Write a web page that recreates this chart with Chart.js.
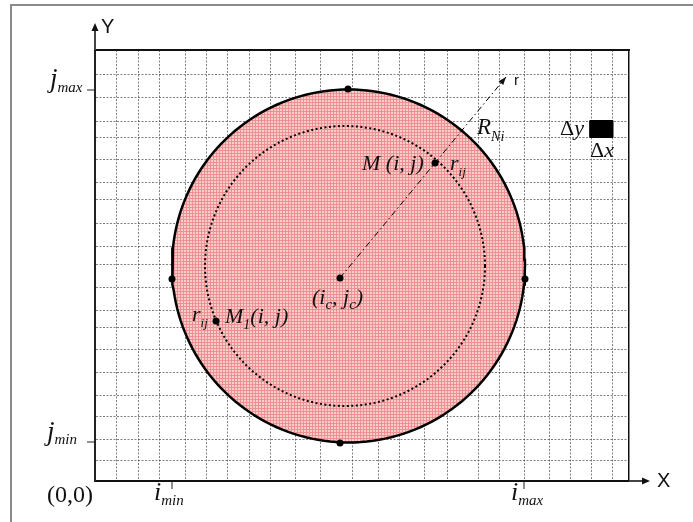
<!DOCTYPE html>
<html>
<head>
<meta charset="utf-8">
<script src="https://cdn.jsdelivr.net/npm/chart.js@4/dist/chart.umd.min.js"></script>
<style>
  html, body { margin: 0; padding: 0; background: #fff; }
  #wrap { position: relative; width: 693px; height: 522px; overflow: hidden; }
  #frame { position: absolute; left: 10px; top: 4px; width: 700px; height: 600px;
           border-top: 2px solid #8a8a8a; border-left: 2px solid #8a8a8a; }
  canvas { position: absolute; left: 0; top: 0; }
</style>
</head>
<body>
<div id="wrap">
  <div id="frame"></div>
  <canvas id="diagram" width="693" height="522"></canvas>
</div>
<script>
// grid cells (data units, origin at the (0,0) corner)
const xGrid = [21.5, 43.5, 64.5, 90, 111.5, 132.5, 154.5, 175.5, 200.5, 225, 257, 283.5,
               304.5, 329, 352.5, 383.5, 404.5, 429, 454.5, 475.5, 496.5, 517.5];
const yGrid = [20.5, 42, 64.5, 86, 108.5, 131.5, 153.5, 170.5, 193.5, 216.5, 234.5, 258,
               281, 298.5, 321.5, 343.5, 360, 383.5, 407];

// limits of the region
const iLimits = [77, 429];   // i_min, i_max
const jLimits = [39, 391];   // j_min, j_max

// boundary circle R_Ni and circle through M(i,j)
const outerCircle = { cx: 253.5, cy: 215, r: 176.5 };
const innerCircle = { cx: 250, cy: 215, r: 140 };

// marked points
const boundaryPoints = [ {x: 253, y: 392}, {x: 245, y: 38}, {x: 77, y: 202}, {x: 430, y: 202} ];
const centerPoint = {x: 245, y: 203};
const mPoint = {x: 340, y: 318};
const m1Point = {x: 121, y: 160};
const rayEnd = {x: 411, y: 404};

// one cell dx * dy
const cellBox = [{x: 495, y: 343.5}, {x: 518, y: 343.5}, {x: 518, y: 360.5}, {x: 495, y: 360.5}, {x: 495, y: 343.5}];

function circlePoints(c, n) {
    const pts = [];
    for (let k = 0; k <= n; k++) {
        const a = 2 * Math.PI * k / n;
        pts.push({ x: c.cx + c.r * Math.cos(a), y: c.cy + c.r * Math.sin(a) });
    }
    return pts;
}

// pink hatch fill
function makePattern() {
    const c = document.createElement('canvas');
    c.width = 3; c.height = 3;
    const g = c.getContext('2d');
    g.fillStyle = '#f9cdcd';
    g.fillRect(0, 0, 3, 3);
    g.fillStyle = '#ef9090';
    g.fillRect(0, 0, 3, 1);
    g.fillRect(0, 0, 1, 3);
    return g.createPattern(c, 'repeat');
}

const SERIF = '"Liberation Serif", "Times New Roman", serif';
const SANS = '"Liberation Sans", Arial, sans-serif';

// parts: [text, kind] kind 0 = italic, 1 = italic subscript, 2 = upright
function rich(ctx, x, y, parts, size, subSize, shift) {
    let cx = x;
    for (const [t, kind] of parts) {
        const style = kind === 2 ? 'normal' : 'italic';
        ctx.font = `${style} ${kind === 1 ? subSize : size}px ${SERIF}`;
        ctx.fillText(t, cx, kind === 1 ? y + shift : y);
        cx += ctx.measureText(t).width;
    }
}

function arrowHead(ctx, x, y, ang, len, half) {
    ctx.save();
    ctx.translate(x, y);
    ctx.rotate(ang);
    ctx.beginPath();
    ctx.moveTo(0, 0);
    ctx.lineTo(-len, -half);
    ctx.lineTo(-len, half);
    ctx.closePath();
    ctx.fill();
    ctx.restore();
}

const overlay = {
    id: 'overlay',
    afterDraw(chart) {
        const { ctx, scales: { x, y } } = chart;
        const X = v => x.getPixelForValue(v);
        const Y = v => y.getPixelForValue(v);
        ctx.save();
        ctx.fillStyle = '#111';

        // axis arrows
        ctx.strokeStyle = '#444';
        ctx.lineWidth = 2;
        ctx.beginPath();
        ctx.moveTo(X(0), Y(431));
        ctx.lineTo(X(0), Y(452));
        ctx.moveTo(X(534), Y(0));
        ctx.lineTo(X(549), Y(0));
        ctx.stroke();
        arrowHead(ctx, X(0), Y(458), -Math.PI / 2, 8, 3.5);
        arrowHead(ctx, X(555), Y(0), 0, 8, 3.5);

        // i / j limit ticks
        ctx.strokeStyle = '#222';
        ctx.lineWidth = 1;
        ctx.beginPath();
        for (const v of iLimits) { ctx.moveTo(X(v), Y(0)); ctx.lineTo(X(v), Y(0) + 8); }
        for (const v of jLimits) { ctx.moveTo(X(0), Y(v)); ctx.lineTo(X(0) - 8, Y(v)); }
        ctx.stroke();

        // ray arrow head
        const ang = Math.atan2(Y(rayEnd.y) - Y(centerPoint.y), X(rayEnd.x) - X(centerPoint.x));
        arrowHead(ctx, X(rayEnd.x), Y(rayEnd.y), ang, 8, 3);

        // plain sans labels
        ctx.textBaseline = 'alphabetic';
        ctx.font = `20px ${SANS}`;
        ctx.fillText('Y', X(6), Y(448));
        ctx.fillText('X', X(562), Y(-6));
        ctx.font = `15px ${SANS}`;
        ctx.fillText('r', X(419), Y(396));

        // serif labels
        ctx.font = `24px ${SERIF}`;
        ctx.fillText('(0,0)', X(-48), Y(-21));
        rich(ctx, X(-45), Y(394), [['j', 0], ['max', 1]], 27, 15, 5);
        rich(ctx, X(-48), Y(41), [['j', 0], ['min', 1]], 27, 15, 4);
        rich(ctx, X(59), Y(-19), [['i', 0], ['min', 1]], 26, 15, 5);
        rich(ctx, X(416), Y(-19), [['i', 0], ['max', 1]], 26, 15, 5);
        rich(ctx, X(267), Y(311), [['M', 0], [' (i, j)', 0]], 22, 12, 6);
        rich(ctx, X(355), Y(311), [['r', 0], ['ij', 1]], 22, 13, 6);
        rich(ctx, X(382), Y(347), [['R', 0], ['Ni', 1]], 23, 14, 7);
        rich(ctx, X(465), Y(346), [['\u0394', 2], ['y', 0]], 22, 12, 6);
        rich(ctx, X(495), Y(324), [['\u0394', 2], ['x', 0]], 22, 12, 6);
        rich(ctx, X(217), Y(177), [['(i', 0], ['c', 1], [', j', 0], ['c', 1], [')', 0]], 22, 15, 5);
        rich(ctx, X(97), Y(160), [['r', 0], ['ij', 1]], 22, 13, 6);
        rich(ctx, X(130), Y(158), [['M', 0], ['1', 1], ['(i, j)', 0]], 22, 14, 6);
        ctx.restore();
    }
};

const hatch = makePattern();

new Chart(document.getElementById('diagram'), {
    type: 'scatter',
    data: {
        datasets: [
            {
                data: circlePoints(outerCircle, 180),
                order: 10,
                showLine: true, tension: 0,
                borderColor: '#000', borderWidth: 2.5,
                backgroundColor: hatch, fill: 'shape',
                pointRadius: 0
            },
            {
                data: circlePoints(innerCircle, 180),
                order: 5,
                showLine: true, tension: 0,
                borderColor: '#000', borderWidth: 2, borderDash: [2, 2.5],
                fill: false, pointRadius: 0
            },
            {
                data: [centerPoint, rayEnd],
                order: 4,
                showLine: true,
                borderColor: '#000', borderWidth: 1, borderDash: [6, 3, 1.5, 3],
                fill: false, pointRadius: 0
            },
            {
                data: cellBox,
                order: 3,
                showLine: true, tension: 0,
                borderColor: '#000', borderWidth: 1,
                backgroundColor: '#000', fill: 'shape',
                pointRadius: 0
            },
            {
                data: [...boundaryPoints, centerPoint, mPoint, m1Point],
                order: 0,
                pointRadius: 3.5, pointBackgroundColor: '#000', pointBorderWidth: 0,
                showLine: false
            }
        ]
    },
    options: {
        responsive: false,
        animation: false,
        events: [],
        layout: { padding: { left: 95, right: 64, top: 50, bottom: 41 } },
        plugins: { legend: { display: false }, tooltip: { enabled: false } },
        scales: {
            x: {
                type: 'linear', min: 0, max: 534, z: 1,
                ticks: { display: false },
                grid: { drawTicks: false, color: 'rgba(60,60,60,0.65)', lineWidth: 1 },
                border: { display: true, color: '#111', width: 2, dash: [2, 1.5] },
                afterBuildTicks: s => { s.ticks = xGrid.map(v => ({ value: v })); }
            },
            y: {
                type: 'linear', min: 0, max: 431, z: 1,
                ticks: { display: false },
                grid: { drawTicks: false, color: 'rgba(60,60,60,0.65)', lineWidth: 1 },
                border: { display: true, color: '#222', width: 2, dash: [2, 1.5] },
                afterBuildTicks: s => { s.ticks = yGrid.map(v => ({ value: v })); }
            },
            x2: {
                type: 'linear', position: 'top', min: 0, max: 534,
                ticks: { display: false },
                grid: { display: false, drawTicks: false },
                border: { display: true, color: '#111', width: 2 }
            },
            y2: {
                type: 'linear', position: 'right', min: 0, max: 431,
                ticks: { display: false },
                grid: { display: false, drawTicks: false },
                border: { display: true, color: '#111', width: 1.5 }
            }
        }
    },
    plugins: [overlay]
});
</script>
</body>
</html>
